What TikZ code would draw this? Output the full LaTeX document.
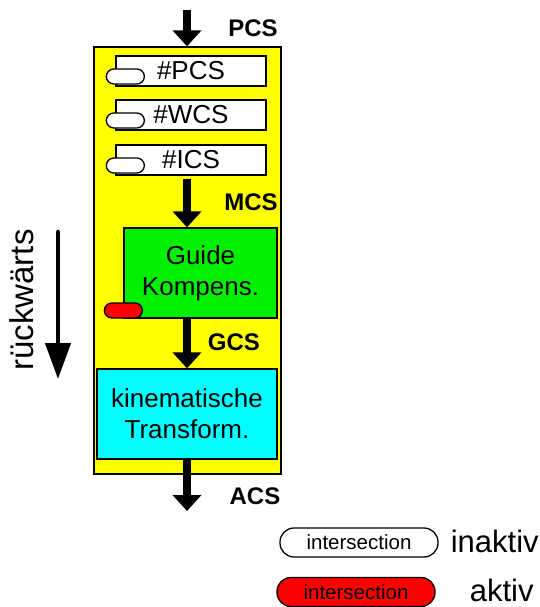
\documentclass[tikz,border=0pt]{standalone}
\usepackage{fontspec}
\setmainfont{Liberation Sans}
\usetikzlibrary{arrows.meta,positioning}

\begin{document}
\begin{tikzpicture}[x=1pt,y=-1pt,
	flow/.style={line width=8pt, -{Triangle[width=28pt,length=16pt]}},
	stage/.style={draw, line width=1.3pt, inner sep=0pt, align=center, font=\fontsize{26}{31}\selectfont},
	csbox/.style={stage, fill=white, minimum width=150pt, minimum height=30pt},
	pill/.style={draw, line width=1.3pt, rounded corners=7.5pt, minimum width=38pt, minimum height=15pt, inner sep=0pt},
	legendpill/.style={draw, line width=1.3pt, rounded corners=14pt, minimum width=158pt, minimum height=29pt, inner sep=0pt, font=\fontsize{20.5}{20.5}\selectfont},
	cslabel/.style={inner sep=0pt, font=\fontsize{24}{24}\selectfont\bfseries},
	legendtext/.style={inner sep=0pt, font=\fontsize{31}{31}\selectfont}]
	\definecolor{custcol_ff_ff_0}{RGB}{255, 255, 0}
	\definecolor{custcol_0_ff_0}{RGB}{0, 240, 0}
	\definecolor{custcol_0_ff_ff}{RGB}{0, 255, 255}
	\definecolor{custcol_ff_0_0}{RGB}{255, 0, 0}
	\useasboundingbox (0,0) rectangle (539,607);
	% frame and the three frames of the chain
	\node[stage, fill=custcol_ff_ff_0, minimum width=187pt, minimum height=427pt] (frame) at (187.5,260.5) {};
	\node[csbox] (pcs) at (191,71) {\#PCS};
	\node[csbox] (wcs) at (191,115) {\#WCS};
	\node[csbox] (ics) at (191,160) {\#ICS};
	\node[pill, fill=white, anchor=south, xshift=10pt, yshift=2pt] (pcspill) at (pcs.south west) {};
	\node[pill, fill=white, anchor=south, xshift=10pt, yshift=2pt] (wcspill) at (wcs.south west) {};
	\node[pill, fill=white, anchor=south, xshift=10pt, yshift=2pt] (icspill) at (ics.south west) {};
	\node[stage, fill=custcol_0_ff_0, minimum width=153pt, minimum height=90pt] (guide) at (200.5,273) {Guide\\Kompens.};
	\node[pill, fill=custcol_ff_0_0, anchor=south] (guidepill) at (guide.south west) {};
	\node[stage, fill=custcol_0_ff_ff, minimum width=180pt, minimum height=90pt] (kin) at (187,414) {kinematische\\Transform.};
	% arrows
	\coordinate (in) at (187,10);
	\coordinate (out) at (187,511);
	\draw[flow] (in) -- (in |- frame.north);
	\draw[flow] ([yshift=-3pt]ics.south -| in) -- (guide.north -| in);
	\draw[flow] (guide.south -| in) -- (kin.north -| in);
	\draw[flow] (kin.south -| in) -- (out);
	\node[cslabel] (pcslabel) at (253,28) {PCS};
	\node[cslabel] (mcslabel) at (251,202) {MCS};
	\node[cslabel] (gcslabel) at (234,342) {GCS};
	\node[cslabel] (acslabel) at (255,496) {ACS};
	% direction
	\coordinate (backtop) at (58,232);
	\coordinate (backend) at (58,379);
	\draw[line width=4.5pt, line cap=round, -{Triangle[width=25pt,length=36pt]}] (backtop) -- (backend);
	\node[legendtext, rotate=90, font=\fontsize{33}{33}\selectfont] (backlabel) at (21.5,300) {rückwärts};
	% legend
	\node[legendpill, fill=white] (inactive) at (359,542.5) {intersection};
	\node[legendpill, fill=custcol_ff_0_0] (active) at (356,592) {intersection};
	\node[legendtext, anchor=base west] (inactivelabel) at ([xshift=12pt]inactive.east |- 0,552) {inaktiv};
	\node[legendtext, anchor=base west] (activelabel) at ([xshift=34pt]active.east |- 0,601) {aktiv};
\end{tikzpicture}
\end{document}
